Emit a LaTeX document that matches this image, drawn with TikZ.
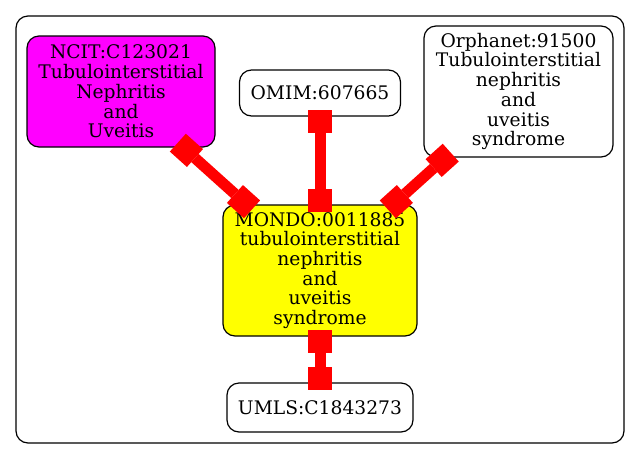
\documentclass[tikz,border=0pt]{standalone}
\usepackage{fontspec}
\setmainfont{DejaVu Serif}
\usetikzlibrary{arrows.meta}
\definecolor{gvmagenta}{HTML}{FF00FF}
\definecolor{gvyellow}{HTML}{FFFF00}
\definecolor{gvred}{HTML}{FF0000}
\begin{document}
\begin{tikzpicture}[x=1pt,y=-1pt,
  termbox/.style={draw=black, line width=1.2pt, rounded corners=12pt, align=center,
    inner sep=0pt, outer sep=0pt, font=\fontsize{18.7}{19.7}\selectfont},
  cluster/.style={draw=black, line width=1.2pt, rounded corners=12pt},
  link/.style={draw=gvred, line width=11pt,
    {Square[length=23pt,width=24pt,line width=0pt]}-{Square[length=23pt,width=24pt,line width=0pt]},
    shorten <=-6.5pt, shorten >=-6.5pt}]
\useasboundingbox (0,0) rectangle (640,459);
\draw[cluster] (16,16) rectangle (624,443);
\node[termbox, fill=gvmagenta, minimum width=188pt, minimum height=111pt] (ncit) at (121,91.5)
  {NCIT:C123021\\Tubulointerstitial\\Nephritis\\and\\Uveitis};
\node[termbox, minimum width=161pt, minimum height=46pt] (omim) at (320,93) {OMIM:607665};
\node[termbox, minimum width=189pt, minimum height=131pt] (orpha) at (518.5,91.5)
  {Orphanet:91500\\Tubulointerstitial\\nephritis\\and\\uveitis\\syndrome};
\node[termbox, fill=gvyellow, minimum width=194pt, minimum height=131pt] (mondo) at (320,270.5)
  {MONDO:0011885\\tubulointerstitial\\nephritis\\and\\uveitis\\syndrome};
\node[termbox, minimum width=186pt, minimum height=49pt] (umls) at (320,407.5) {UMLS:C1843273};
\draw[link] (ncit) -- (mondo);
\draw[link] (omim) -- (mondo);
\draw[link] (orpha) -- (mondo);
\draw[link] (mondo) -- (umls);
\end{tikzpicture}
\end{document}
